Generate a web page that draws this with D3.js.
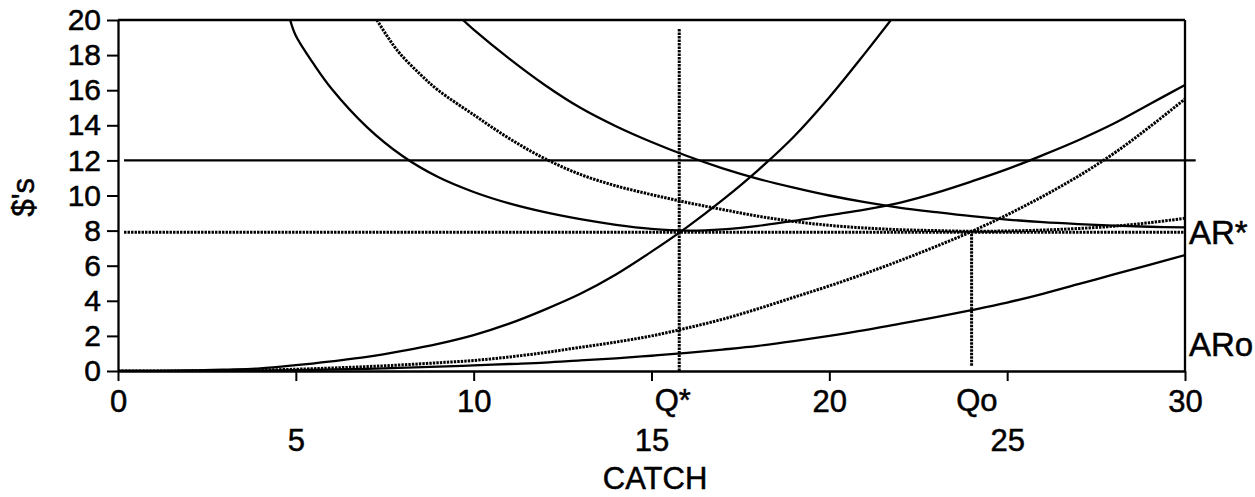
<!DOCTYPE html>
<html>
<head>
<meta charset="utf-8">
<script src="https://cdn.jsdelivr.net/npm/d3@7"></script>
<style>
  html, body { margin: 0; padding: 0; background: #fff; }
  svg { display: block; }
  text { font-family: "Liberation Sans", Arial, Helvetica, sans-serif; fill: #000; stroke: #000; stroke-width: 0.5px; }
</style>
</head>
<body>
<svg id="chart" width="1255" height="497"></svg>
<script>
// ---------------- data ----------------
const yTicks = [0, 2, 4, 6, 8, 10, 12, 14, 16, 18, 20];
const xTicks = [0, 5, 10, 15, 20, 25, 30];
const xTickRow1 = [0, 10, 20, 30];
const xTickRow2 = [5, 15, 25];

// marginal-cost type curves (rising)
const mc1X = [0, 2, 3, 4, 5, 6, 7, 8, 9, 10, 11, 12, 13, 14, 15, 16, 17, 18, 19, 20, 21, 22];
const mc1Y = [0, 0.03, 0.08, 0.15, 0.33, 0.55, 0.8, 1.15, 1.55, 2.05, 2.7, 3.5, 4.4, 5.5, 6.8, 8.2, 9.75, 11.45, 13.35, 15.6, 18.1, 20.7];

const mc2X = [0, 3, 5, 6, 7, 8, 9, 10, 11, 12, 13, 14, 15, 16, 17, 18, 19, 20, 21, 22, 23, 24, 25, 26, 27, 28, 29, 30];
const mc2Y = [0, 0.02, 0.1, 0.17, 0.25, 0.35, 0.47, 0.6, 0.8, 1.05, 1.35, 1.65, 2.0, 2.45, 2.95, 3.55, 4.2, 4.85, 5.55, 6.3, 7.1, 7.95, 8.9, 9.95, 11.1, 12.4, 13.9, 15.5];

const mc3X = [0, 3, 5, 7, 9, 10, 11, 12, 13, 14, 15, 16, 17, 18, 19, 20, 21, 22, 23, 24, 25, 26, 27, 28, 29, 30];
const mc3Y = [0, 0.01, 0.05, 0.12, 0.25, 0.32, 0.4, 0.48, 0.6, 0.72, 0.87, 1.03, 1.22, 1.43, 1.7, 2.0, 2.33, 2.7, 3.07, 3.47, 3.9, 4.4, 4.95, 5.5, 6.05, 6.6];

// average-cost type curves (falling / U-shaped)
const ac1X = [4.84, 5.0, 5.5, 6, 7, 8, 9, 10, 11, 12, 13, 14, 15, 16, 17, 18, 19, 20, 21, 22, 23, 24, 25, 26, 27, 28, 29, 30];
const ac1Y = [20, 19.1, 17.5, 16.1, 13.9, 12.25, 11.05, 10.2, 9.55, 9.05, 8.65, 8.33, 8.1, 8.0, 8.07, 8.27, 8.55, 8.88, 9.2, 9.6, 10.15, 10.8, 11.5, 12.3, 13.15, 14.1, 15.2, 16.3];

const ac2X = [7.28, 7.84, 8.5, 9, 10, 11, 12, 13, 14, 15, 16, 17, 18, 19, 20, 21, 22, 23, 24, 25, 26, 27, 28, 29, 30];
const ac2Y = [20, 18.3, 16.9, 16.0, 14.6, 13.25, 12.1, 11.2, 10.55, 10.05, 9.6, 9.2, 8.82, 8.52, 8.3, 8.15, 8.05, 8.0, 7.96, 7.98, 8.03, 8.12, 8.25, 8.45, 8.7];

const ac3X = [9.7, 10, 11, 12, 13, 14, 15, 16, 17, 18, 19, 20, 21, 22, 23, 24, 25, 26, 27, 28, 29, 30];
const ac3Y = [20, 19.45, 17.8, 16.3, 15.0, 13.95, 13.05, 12.25, 11.55, 10.95, 10.45, 10.0, 9.62, 9.3, 9.05, 8.82, 8.63, 8.48, 8.37, 8.28, 8.22, 8.18];

// average revenue levels
const arLevels = [12, 7.9];            // AR (solid), AR* (dotted)
const arStartX = [0.17, 0.17];
const arEndX = [30.3, 30];

// equilibrium catches
const qStar = 15.78, qStarTop = 19.5;
const qOpen = 24.0, qOpenTop = 7.9, qOpenBottom = 0.3;
const qLabels = ["Q*", "Qo"];
const qLabelX = [15.6, 24.15];

const sideLabels = ["AR*", "ARo"];
const sideLabelY = [7.9, 1.55];

const xTitle = "CATCH";
const yTitle = "$'s";

// ---------------- drawing ----------------
const svg = d3.select("#chart");
const x = d3.scaleLinear().domain([0, 30]).range([118, 1185]);
const y = d3.scaleLinear().domain([0, 20]).range([371, 20]);

svg.append("defs").append("clipPath").attr("id", "plotclip")
  .append("rect").attr("x", x(0)).attr("y", y(20)).attr("width", x(30) - x(0)).attr("height", y(0) - y(20));

const plot = svg.append("g").attr("clip-path", "url(#plotclip)");
const line = d3.line().x(d => x(d[0])).y(d => y(d[1])).curve(d3.curveCatmullRom.alpha(0.5));
const pts = (xs, ys) => xs.map((v, i) => [v, ys[i]]);

const solid = { stroke: "#000", width: 2.3, dash: null };
const dotted = { stroke: "#000", width: 3, dash: "2.4,1.1" };

const curves = [
  { d: pts(mc1X, mc1Y), s: solid },
  { d: pts(mc2X, mc2Y), s: dotted },
  { d: pts(mc3X, mc3Y), s: solid },
  { d: pts(ac1X, ac1Y), s: solid },
  { d: pts(ac2X, ac2Y), s: dotted },
  { d: pts(ac3X, ac3Y), s: solid }
];
curves.forEach(c => {
  plot.append("path").attr("d", line(c.d)).attr("fill", "none")
    .attr("stroke", c.s.stroke).attr("stroke-width", c.s.width)
    .attr("stroke-dasharray", c.s.dash);
});

// AR lines
svg.append("line").attr("x1", x(arStartX[0])).attr("x2", x(arEndX[0]))
  .attr("y1", y(arLevels[0])).attr("y2", y(arLevels[0]))
  .attr("stroke", "#000").attr("stroke-width", 2.3);
svg.append("line").attr("x1", x(arStartX[1])).attr("x2", x(arEndX[1]))
  .attr("y1", y(arLevels[1])).attr("y2", y(arLevels[1]))
  .attr("stroke", "#000").attr("stroke-width", dotted.width).attr("stroke-dasharray", dotted.dash);

// vertical Q lines
svg.append("line").attr("x1", x(qStar)).attr("x2", x(qStar))
  .attr("y1", y(0)).attr("y2", y(qStarTop))
  .attr("stroke", "#000").attr("stroke-width", dotted.width).attr("stroke-dasharray", dotted.dash);
svg.append("line").attr("x1", x(qOpen)).attr("x2", x(qOpen))
  .attr("y1", y(qOpenBottom)).attr("y2", y(qOpenTop))
  .attr("stroke", "#000").attr("stroke-width", dotted.width).attr("stroke-dasharray", dotted.dash);

// frame (top, right)
svg.append("line").attr("x1", x(0)).attr("x2", x(30)).attr("y1", y(20)).attr("y2", y(20))
  .attr("stroke", "#000").attr("stroke-width", 2.3);
svg.append("line").attr("x1", x(30)).attr("x2", x(30)).attr("y1", y(20)).attr("y2", y(0))
  .attr("stroke", "#000").attr("stroke-width", 2.3);

// y axis
const yAxis = svg.append("g").attr("transform", `translate(${x(0)},0)`)
  .call(d3.axisLeft(y).tickValues(yTicks).tickSize(11).tickPadding(6).tickSizeOuter(0));
yAxis.select(".domain").attr("stroke-width", 2.3);
yAxis.selectAll(".tick line").attr("stroke-width", 2);
yAxis.selectAll(".tick text").style("font-size", "30px").attr("font-family", null);

// x axis
const xAxis = svg.append("g").attr("transform", `translate(0,${y(0)})`)
  .call(d3.axisBottom(x).tickValues(xTicks).tickSize(10).tickPadding(6).tickSizeOuter(0));
xAxis.select(".domain").attr("stroke-width", 2.3);
xAxis.selectAll(".tick line").attr("stroke-width", 2);
xAxis.selectAll(".tick text").style("font-size", "31px").attr("font-family", null)
  .attr("dy", d => xTickRow2.includes(d) ? "2.05em" : "0.8em");

// Q labels under the axis
svg.selectAll("text.qlab").data(qLabels).enter().append("text")
  .attr("class", "qlab")
  .attr("x", (d, i) => x(qLabelX[i])).attr("y", y(0) + 40)
  .attr("text-anchor", "middle").style("font-size", "31px").text(d => d);

// side labels
svg.selectAll("text.side").data(sideLabels).enter().append("text")
  .attr("class", "side")
  .attr("x", x(30) + 4).attr("y", (d, i) => y(sideLabelY[i]))
  .attr("dy", "0.36em").style("font-size", "33px").text(d => d);

// axis titles
svg.append("text").attr("x", x(15.1)).attr("y", 489)
  .attr("text-anchor", "middle").style("font-size", "31px").text(xTitle);
svg.append("text").attr("transform", `translate(34,${y(9.9)}) rotate(-90)`)
  .attr("text-anchor", "middle").style("font-size", "31px").text(yTitle);
</script>
</body>
</html>
